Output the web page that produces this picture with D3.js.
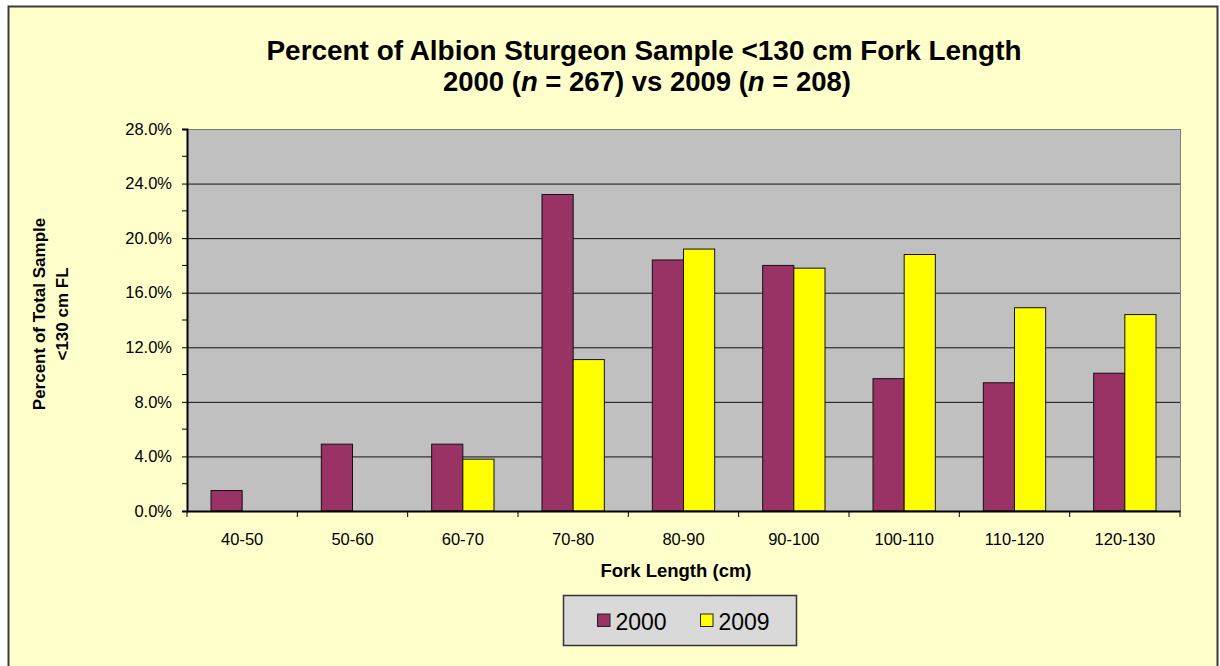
<!DOCTYPE html>
<html>
<head>
<meta charset="utf-8">
<script src="https://cdn.jsdelivr.net/npm/d3@7"></script>
<style>
  body { margin: 0; background: #fff; }
  svg { display: block; font-family: "Liberation Sans", Arial, sans-serif; }
</style>
</head>
<body>
<div id="chart"></div>
<script>
// fork length classes (cm)
const categories = ["40-50", "50-60", "60-70", "70-80", "80-90", "90-100", "100-110", "110-120", "120-130"];
const seriesNames = ["2000", "2009"];
// percent of sample
const values2000 = [1.5, 4.9, 4.9, 23.2, 18.4, 18.0, 9.7, 9.4, 10.1];
const values2009 = [0, 0, 3.8, 11.1, 19.2, 17.8, 18.8, 14.9, 14.4];
const yTicks = [0, 4, 8, 12, 16, 20, 24, 28];
const yMinorTicks = [2, 6, 10, 14, 18, 22, 26];

const colors = { "2000": "#993366", "2009": "#FFFF00" };

let width = 1220, height = 666;
let margin = { top: 129, right: 40, bottom: 155, left: 187 };
let innerW = 1180 - margin.left, innerH = 511 - margin.top;

let svg = d3.select("#chart").append("svg")
    .attr("width", width)
    .attr("height", height);

// outer chart area
svg.append("rect")
    .attr("x", 8.5).attr("y", 6.5)
    .attr("width", 1209).attr("height", 700)
    .attr("fill", "#FFFFCC")
    .attr("stroke", "#3a3a3a")
    .attr("stroke-width", 2);

// title
svg.append("text")
    .attr("x", 644).attr("y", 60)
    .attr("text-anchor", "middle")
    .attr("font-size", 27).attr("font-weight", "bold")
    .attr("textLength", 755).attr("lengthAdjust", "spacingAndGlyphs")
    .text("Percent of Albion Sturgeon Sample <130 cm Fork Length");

let t2 = svg.append("text")
    .attr("x", 647).attr("y", 91)
    .attr("text-anchor", "middle")
    .attr("font-size", 27).attr("font-weight", "bold")
    .attr("textLength", 408).attr("lengthAdjust", "spacingAndGlyphs");
t2.append("tspan").text("2000 (");
t2.append("tspan").attr("font-style", "italic").text("n");
t2.append("tspan").text(" = 267) vs 2009 (");
t2.append("tspan").attr("font-style", "italic").text("n");
t2.append("tspan").text(" = 208)");

let g = svg.append("g")
    .attr("transform", `translate(${margin.left}, ${margin.top})`);

// scales
let y = d3.scaleLinear().domain([0, 28]).range([innerH, 0]);
let x0 = d3.scaleBand().domain(categories).range([0, innerW])
    .paddingInner(0.435).paddingOuter(0.2175);
let x1 = d3.scaleBand().domain(seriesNames).range([0, x0.bandwidth()]);

// plot background
g.append("rect")
    .attr("width", innerW).attr("height", innerH)
    .attr("fill", "#C0C0C0");

// gridlines
g.selectAll(".grid")
    .data(yTicks.slice(1))
    .enter().append("line")
    .attr("x1", 0).attr("x2", innerW)
    .attr("y1", d => y(d) + 0.5).attr("y2", d => y(d) + 0.5)
    .attr("stroke", d => d === 28 ? "#777" : "#111")
    .attr("stroke-width", 1);

// right border of plot
g.append("line")
    .attr("x1", innerW + 0.5).attr("x2", innerW + 0.5)
    .attr("y1", 0).attr("y2", innerH)
    .attr("stroke", "#808080");

// bars
const rows = categories.map((c, i) => ({ cat: c, vals: [
    { key: "2000", v: values2000[i] },
    { key: "2009", v: values2009[i] }
] }));

let groups = g.selectAll(".grp")
    .data(rows)
    .enter().append("g")
    .attr("class", "grp")
    .attr("transform", d => `translate(${x0(d.cat)}, 0)`);

groups.selectAll("rect")
    .data(d => d.vals.filter(e => e.v > 0))
    .enter().append("rect")
    .attr("x", d => x1(d.key))
    .attr("y", d => y(d.v))
    .attr("width", x1.bandwidth())
    .attr("height", d => innerH - y(d.v))
    .attr("fill", d => colors[d.key])
    .attr("stroke", "#111")
    .attr("stroke-width", 1);

// y axis
let yAxis = g.append("g")
    .call(d3.axisLeft(y).tickValues(yTicks).tickSize(5).tickPadding(10)
        .tickFormat(d => d.toFixed(1) + "%"));
yAxis.select(".domain").attr("stroke", "#000").attr("stroke-width", 2);
yAxis.selectAll("text").attr("font-size", 16.5).attr("fill", "#000")
    .attr("font-family", "Liberation Sans, Arial, sans-serif");

g.append("g")
    .selectAll("line")
    .data(yMinorTicks)
    .enter().append("line")
    .attr("x1", -5).attr("x2", 0)
    .attr("y1", d => y(d)).attr("y2", d => y(d))
    .attr("stroke", "#000");

// x axis
let xAxis = g.append("g")
    .attr("transform", `translate(0, ${innerH})`)
    .call(d3.axisBottom(x0).tickSize(0).tickPadding(22));
xAxis.select(".domain").attr("stroke", "#000").attr("stroke-width", 2);
xAxis.selectAll("text").attr("font-size", 16.5).attr("fill", "#000")
    .attr("font-family", "Liberation Sans, Arial, sans-serif");

// category boundary ticks
const bounds = d3.range(categories.length + 1).map(i => i * x0.step());
xAxis.selectAll(".bound")
    .data(bounds)
    .enter().append("line")
    .attr("x1", d => d).attr("x2", d => d)
    .attr("y1", 0).attr("y2", 6)
    .attr("stroke", "#000");

// axis titles
svg.append("text")
    .attr("x", 676).attr("y", 577)
    .attr("text-anchor", "middle")
    .attr("font-size", 18.5).attr("font-weight", "bold")
    .text("Fork Length (cm)");

let yt = svg.append("text")
    .attr("transform", "translate(45, 314) rotate(-90)")
    .attr("text-anchor", "middle")
    .attr("font-size", 17).attr("font-weight", "bold");
yt.append("tspan").attr("x", 0).attr("y", 0).text("Percent of Total Sample");
yt.append("tspan").attr("x", 0).attr("y", 23).text("<130 cm FL");

// legend
let legend = svg.append("g");
legend.append("rect")
    .attr("x", 563.5).attr("y", 595.5)
    .attr("width", 233).attr("height", 50)
    .attr("fill", "#D9D9D9")
    .attr("stroke", "#333")
    .attr("stroke-width", 1.5);

const legendX = { "2000": 597.5, "2009": 700.5 };
let items = legend.selectAll(".item")
    .data(seriesNames)
    .enter().append("g")
    .attr("transform", d => `translate(${legendX[d]}, 614)`);
items.append("rect")
    .attr("width", 12.5).attr("height", 12.5)
    .attr("fill", d => colors[d])
    .attr("stroke", "#222");
items.append("text")
    .attr("x", 18).attr("y", 16)
    .attr("font-size", 23)
    .text(d => d);
</script>
</body>
</html>
